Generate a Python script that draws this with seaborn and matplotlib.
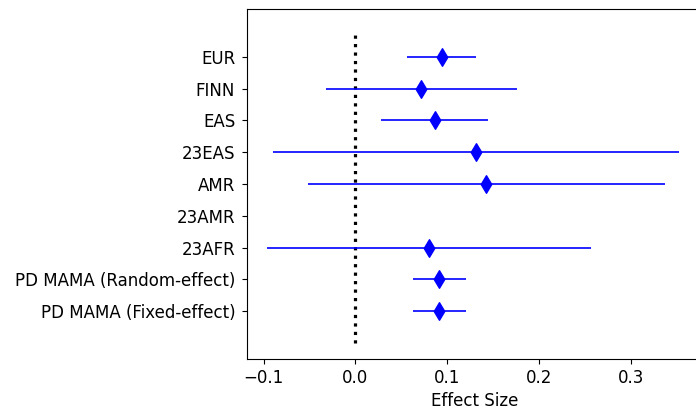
import numpy as np
import pandas as pd
import matplotlib
matplotlib.use("Agg")
import matplotlib.pyplot as plt
import seaborn as sns

labels = ["EUR", "FINN", "EAS", "23EAS", "AMR", "23AMR", "23AFR",
          "PD MAMA (Random-effect)", "PD MAMA (Fixed-effect)"]
effect = [0.094, 0.072, 0.087, 0.1315, 0.142, np.nan, 0.0805, 0.0915, 0.0915]
ci_low = [0.0566, -0.032, 0.0283, -0.0897, -0.0519, np.nan, -0.0963, 0.0625, 0.0625]
ci_high = [0.1315, 0.176, 0.145, 0.353, 0.337, np.nan, 0.2564, 0.121, 0.121]

n = len(labels)
ypos = list(range(n - 1, -1, -1))
df = pd.DataFrame({"label": labels, "effect": effect, "lo": ci_low,
                   "hi": ci_high, "y": ypos})

fig = plt.figure(figsize=(6.96, 4.11), dpi=100)
ax = fig.add_axes([247 / 696, 52 / 411, 454.4 / 696, 350 / 411])

d = df.dropna()
ax.hlines(d["y"], d["lo"], d["hi"], color="blue", linewidth=1.2, zorder=2)
sns.scatterplot(data=d, x="effect", y="y", marker="d", s=80,
                color="blue", edgecolor="blue", linewidth=1, ax=ax, zorder=3,
                legend=False)
ax.vlines(0, -1, 8.8, colors="black", linestyles=":", linewidth=2.3, zorder=1)

ax.set_yticks(ypos)
ax.set_yticklabels(labels, fontsize=12)
ax.tick_params(axis="y", pad=5)
ax.set_ylim(-1.5, 9.5)
ax.set_xlim(-0.118, 0.377)
ax.set_xticks([-0.1, 0.0, 0.1, 0.2, 0.3])
ax.tick_params(axis="x", labelsize=12)
ax.set_xlabel("Effect Size", fontsize=12)
ax.set_ylabel("")

fig.savefig("out.png", dpi=100)
